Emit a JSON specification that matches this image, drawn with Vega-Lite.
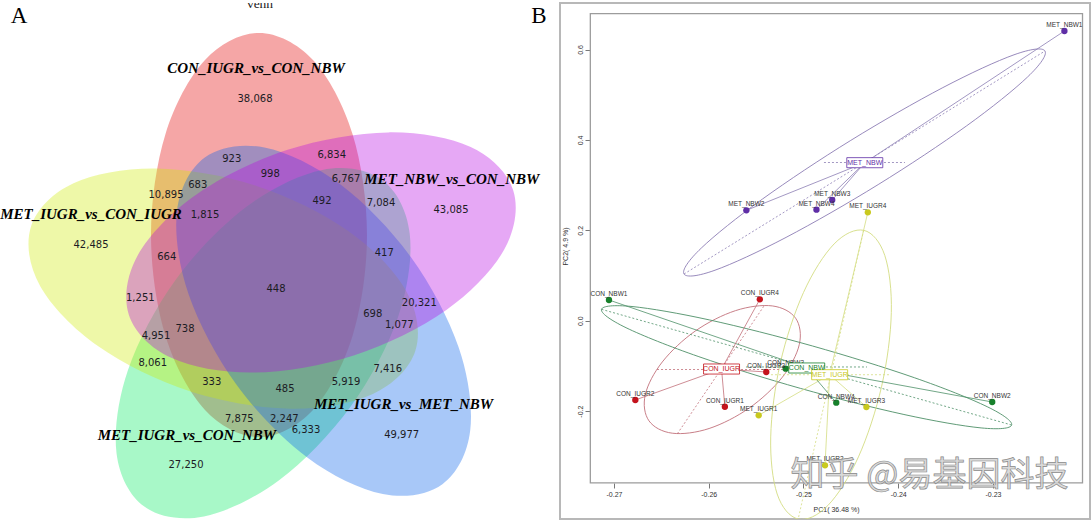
{
  "$schema": "https://vega.github.io/schema/vega-lite/v6.json",
  "padding": {"left": 0, "top": 2, "right": 2, "bottom": 0},
  "bounds": "flush",
  "spacing": 14,
  "background": "white",
  "config": {
    "view": {"stroke": null},
    "font": "Liberation Sans",
    "locale": {"number": {"decimal": ".", "thousands": ",", "grouping": [3], "currency": ["$", ""], "minus": "-"}}
  },
  "datasets": {
    "venn": [
      {"s":"R","i":0,"x":2.58,"y":4.90},{"s":"R","i":1,"x":3.12,"y":4.629},{"s":"R","i":2,"x":3.515,"y":3.89},{"s":"R","i":3,"x":3.66,"y":2.88},{"s":"R","i":4,"x":3.515,"y":1.87},{"s":"R","i":5,"x":3.12,"y":1.131},{"s":"R","i":6,"x":2.58,"y":0.86},{"s":"R","i":7,"x":2.04,"y":1.131},{"s":"R","i":8,"x":1.645,"y":1.87},{"s":"R","i":9,"x":1.50,"y":2.88},{"s":"R","i":10,"x":1.645,"y":3.89},{"s":"R","i":11,"x":2.04,"y":4.629},
      {"s":"M","i":0,"x":5.121,"y":3.329},{"s":"M","i":1,"x":5.031,"y":2.732},{"s":"M","i":2,"x":4.45,"y":2.128},{"s":"M","i":3,"x":3.534,"y":1.678},{"s":"M","i":4,"x":2.529,"y":1.504},{"s":"M","i":5,"x":1.703,"y":1.652},{"s":"M","i":6,"x":1.279,"y":2.081},{"s":"M","i":7,"x":1.369,"y":2.679},{"s":"M","i":8,"x":1.951,"y":3.282},{"s":"M","i":9,"x":2.866,"y":3.732},{"s":"M","i":10,"x":3.872,"y":3.906},{"s":"M","i":11,"x":4.697,"y":3.759},
      {"s":"B","i":0,"x":4.414,"y":0.388},{"s":"B","i":1,"x":3.818,"y":0.29},{"s":"B","i":2,"x":3.063,"y":0.655},{"s":"B","i":3,"x":2.352,"y":1.387},{"s":"B","i":4,"x":1.875,"y":2.289},{"s":"B","i":5,"x":1.76,"y":3.12},{"s":"B","i":6,"x":2.038,"y":3.656},{"s":"B","i":7,"x":2.634,"y":3.755},{"s":"B","i":8,"x":3.389,"y":3.389},{"s":"B","i":9,"x":4.10,"y":2.657},{"s":"B","i":10,"x":4.577,"y":1.755},{"s":"B","i":11,"x":4.692,"y":0.925},
      {"s":"G","i":0,"x":1.433,"y":0.164},{"s":"G","i":1,"x":2.029,"y":0.066},{"s":"G","i":2,"x":2.784,"y":0.431},{"s":"G","i":3,"x":3.495,"y":1.163},{"s":"G","i":4,"x":3.972,"y":2.065},{"s":"G","i":5,"x":4.087,"y":2.896},{"s":"G","i":6,"x":3.809,"y":3.432},{"s":"G","i":7,"x":3.213,"y":3.531},{"s":"G","i":8,"x":2.458,"y":3.165},{"s":"G","i":9,"x":1.747,"y":2.433},{"s":"G","i":10,"x":1.27,"y":1.531},{"s":"G","i":11,"x":1.155,"y":0.701},
      {"s":"Y","i":0,"x":0.301,"y":2.968},{"s":"Y","i":1,"x":0.725,"y":3.398},{"s":"Y","i":2,"x":1.551,"y":3.545},{"s":"Y","i":3,"x":2.556,"y":3.371},{"s":"Y","i":4,"x":3.472,"y":2.921},{"s":"Y","i":5,"x":4.053,"y":2.318},{"s":"Y","i":6,"x":4.143,"y":1.72},{"s":"Y","i":7,"x":3.719,"y":1.291},{"s":"Y","i":8,"x":2.894,"y":1.143},{"s":"Y","i":9,"x":1.888,"y":1.317},{"s":"Y","i":10,"x":0.973,"y":1.767},{"s":"Y","i":11,"x":0.391,"y":2.371}
    ],
    "vennNums": [
      {"t":"38,068","x":2.54,"y":4.237},{"t":"923","x":2.307,"y":3.637},{"t":"998","x":2.693,"y":3.487},{"t":"6,834","x":3.307,"y":3.677},
      {"t":"683","x":1.967,"y":3.38},{"t":"10,895","x":1.65,"y":3.28},{"t":"6,767","x":3.45,"y":3.437},{"t":"492","x":3.21,"y":3.22},
      {"t":"7,084","x":3.80,"y":3.197},{"t":"1,815","x":2.04,"y":3.08},{"t":"42,485","x":0.90,"y":2.777},{"t":"664","x":1.657,"y":2.66},
      {"t":"1,251","x":1.393,"y":2.253},{"t":"4,951","x":1.55,"y":1.87},{"t":"738","x":1.84,"y":1.943},{"t":"448","x":2.75,"y":2.337},
      {"t":"43,085","x":4.50,"y":3.127},{"t":"417","x":3.833,"y":2.697},{"t":"20,321","x":4.183,"y":2.203},{"t":"698","x":3.717,"y":2.093},
      {"t":"1,077","x":3.983,"y":1.98},{"t":"8,061","x":1.517,"y":1.603},{"t":"7,416","x":3.867,"y":1.537},{"t":"333","x":2.107,"y":1.41},
      {"t":"485","x":2.84,"y":1.337},{"t":"5,919","x":3.45,"y":1.413},{"t":"7,875","x":2.383,"y":1.037},{"t":"2,247","x":2.833,"y":1.037},
      {"t":"6,333","x":3.05,"y":0.927},{"t":"49,977","x":4.007,"y":0.88},{"t":"27,250","x":1.85,"y":0.577}
    ],
    "vennSets": [
      {"t":"CON_IUGR_vs_CON_NBW","x":2.55,"y":4.553},
      {"t":"MET_IUGR_vs_CON_IUGR","x":0.90,"y":3.087},
      {"t":"MET_NBW_vs_CON_NBW","x":4.508,"y":3.437},
      {"t":"MET_IUGR_vs_MET_NBW","x":4.025,"y":1.187},
      {"t":"MET_IUGR_vs_CON_NBW","x":1.858,"y":0.877}
    ],
    "panelLetters": [{"t":"A","x":0.18,"y":5.005},{"t":"B","x":5.38,"y":5.005}],
    "vennTitle": [{"t":"venn","x":2.59,"y":5.15}],
    "pca": [
      {"s":"MET_NBW1","g":"MET_NBW","x":-0.22246,"y":0.6409},
      {"s":"MET_NBW2","g":"MET_NBW","x":-0.25603,"y":0.2442},
      {"s":"MET_NBW3","g":"MET_NBW","x":-0.24697,"y":0.2670},
      {"s":"MET_NBW4","g":"MET_NBW","x":-0.24863,"y":0.2456},
      {"s":"MET_IUGR4","g":"MET_IUGR","x":-0.24321,"y":0.2398},
      {"s":"CON_NBW1","g":"CON_NBW","x":-0.27053,"y":0.0458},
      {"s":"CON_IUGR4","g":"CON_IUGR","x":-0.25461,"y":0.0473},
      {"s":"CON_NBW3","g":"CON_NBW","x":-0.25188,"y":-0.1062},
      {"s":"CON_IUGR3","g":"CON_IUGR","x":-0.25393,"y":-0.1135},
      {"s":"CON_IUGR2","g":"CON_IUGR","x":-0.26775,"y":-0.1754},
      {"s":"CON_IUGR1","g":"CON_IUGR","x":-0.25830,"y":-0.1903},
      {"s":"MET_IUGR1","g":"MET_IUGR","x":-0.25473,"y":-0.2093},
      {"s":"CON_NBW4","g":"CON_NBW","x":-0.24654,"y":-0.1814},
      {"s":"MET_IUGR3","g":"MET_IUGR","x":-0.24336,"y":-0.1909},
      {"s":"CON_NBW2","g":"CON_NBW","x":-0.23008,"y":-0.1799},
      {"s":"MET_IUGR2","g":"MET_IUGR","x":-0.24773,"y":-0.3199}
    ],
    "pcaGroups": [
      {"g":"MET_NBW","x":-0.24353,"y":0.3496},
      {"g":"CON_IUGR","x":-0.25865,"y":-0.1069},
      {"g":"CON_NBW","x":-0.24966,"y":-0.1046},
      {"g":"MET_IUGR","x":-0.24724,"y":-0.1195}
    ],
    "pcaEllAxes": [
      {"g":"MET_NBW","x":-0.26261,"y":0.1033,"x2":-0.22451,"y2":0.5967},
      {"g":"MET_NBW","x":-0.24784,"y":0.35,"x2":-0.23929,"y2":0.35},
      {"g":"CON_IUGR","x":-0.26331,"y":-0.25,"x2":-0.25412,"y2":0.0341},
      {"g":"CON_IUGR","x":-0.26546,"y":-0.108,"x2":-0.25174,"y2":-0.108},
      {"g":"CON_NBW","x":-0.27132,"y":0.0252,"x2":-0.22803,"y2":-0.2308},
      {"g":"CON_NBW","x":-0.25607,"y":-0.1024,"x2":-0.2433,"y2":-0.1024},
      {"g":"MET_IUGR","x":-0.24365,"y":0.2,"x2":-0.25056,"y2":-0.4385},
      {"g":"MET_IUGR","x":-0.25343,"y":-0.1195,"x2":-0.24077,"y2":-0.1195}
    ],
    "pcaFrame": [{"x":-0.2725,"x2":-0.22055,"y":0.6792,"y2":-0.359}],
    "pcaMark": [{"t":"知乎 @易基因科技","x":-0.2367,"y":-0.3436}],
    "pcaEll": [
      {"g":"MET_NBW","i":0,"x":-0.22451,"y":0.5967},{"g":"MET_NBW","i":1,"x":-0.22635,"y":0.5392},{"g":"MET_NBW","i":2,"x":-0.23279,"y":0.4310},{"g":"MET_NBW","i":3,"x":-0.24212,"y":0.3011},{"g":"MET_NBW","i":4,"x":-0.25184,"y":0.1843},{"g":"MET_NBW","i":5,"x":-0.25934,"y":0.1117},{"g":"MET_NBW","i":6,"x":-0.26261,"y":0.1033},{"g":"MET_NBW","i":7,"x":-0.26078,"y":0.1608},{"g":"MET_NBW","i":8,"x":-0.25434,"y":0.2690},{"g":"MET_NBW","i":9,"x":-0.24501,"y":0.3989},{"g":"MET_NBW","i":10,"x":-0.23529,"y":0.5157},{"g":"MET_NBW","i":11,"x":-0.22778,"y":0.5883},
      {"g":"CON_IUGR","i":0,"x":-0.25083,"y":0.0055},{"g":"CON_IUGR","i":1,"x":-0.25044,"y":-0.0524},{"g":"CON_IUGR","i":2,"x":-0.25223,"y":-0.1250},{"g":"CON_IUGR","i":3,"x":-0.25572,"y":-0.1931},{"g":"CON_IUGR","i":4,"x":-0.25996,"y":-0.2385},{"g":"CON_IUGR","i":5,"x":-0.26385,"y":-0.2489},{"g":"CON_IUGR","i":6,"x":-0.26631,"y":-0.2215},{"g":"CON_IUGR","i":7,"x":-0.26670,"y":-0.1637},{"g":"CON_IUGR","i":8,"x":-0.26490,"y":-0.0912},{"g":"CON_IUGR","i":9,"x":-0.26142,"y":-0.0228},{"g":"CON_IUGR","i":10,"x":-0.25717,"y":0.0223},{"g":"CON_IUGR","i":11,"x":-0.25329,"y":0.0327},
      {"g":"CON_NBW","i":0,"x":-0.22803,"y":-0.2308},{"g":"CON_NBW","i":1,"x":-0.23125,"y":-0.2372},{"g":"CON_NBW","i":2,"x":-0.23940,"y":-0.2075},{"g":"CON_NBW","i":3,"x":-0.25031,"y":-0.1498},{"g":"CON_NBW","i":4,"x":-0.26104,"y":-0.0796},{"g":"CON_NBW","i":5,"x":-0.26873,"y":-0.0155},{"g":"CON_NBW","i":6,"x":-0.27132,"y":0.0251},{"g":"CON_NBW","i":7,"x":-0.26810,"y":0.0314},{"g":"CON_NBW","i":8,"x":-0.25995,"y":0.0018},{"g":"CON_NBW","i":9,"x":-0.24904,"y":-0.0560},{"g":"CON_NBW","i":10,"x":-0.23830,"y":-0.1261},{"g":"CON_NBW","i":11,"x":-0.23061,"y":-0.1903},
      {"g":"MET_IUGR","i":0,"x":-0.24363,"y":0.1999},{"g":"MET_IUGR","i":1,"x":-0.24142,"y":0.1444},{"g":"MET_IUGR","i":2,"x":-0.24073,"y":0.0181},{"g":"MET_IUGR","i":3,"x":-0.24175,"y":-0.1449},{"g":"MET_IUGR","i":4,"x":-0.24420,"y":-0.3013},{"g":"MET_IUGR","i":5,"x":-0.24742,"y":-0.4087},{"g":"MET_IUGR","i":6,"x":-0.25056,"y":-0.4388},{"g":"MET_IUGR","i":7,"x":-0.25278,"y":-0.3833},{"g":"MET_IUGR","i":8,"x":-0.25346,"y":-0.2571},{"g":"MET_IUGR","i":9,"x":-0.25245,"y":-0.0940},{"g":"MET_IUGR","i":10,"x":-0.25000,"y":0.0624},{"g":"MET_IUGR","i":11,"x":-0.24677,"y":0.1698}
    ]
  },
  "hconcat": [
    {
      "width": 545,
      "height": 520,
      "encoding": {
        "x": {"field": "x", "type": "quantitative", "scale": {"domain": [0, 5.45], "nice": false, "zero": false}, "axis": null},
        "y": {"field": "y", "type": "quantitative", "scale": {"domain": [0, 5.2], "nice": false, "zero": false}, "axis": null}
      },
      "layer": [
        {"data": {"name": "venn"}, "transform": [{"filter": "datum.s === 'R'"}], "mark": {"type": "line", "interpolate": "cardinal-closed", "fill": "#E20000", "fillOpacity": 0.35, "strokeWidth": 0, "strokeOpacity": 0}, "encoding": {"order": {"field": "i", "type": "quantitative"}}},
        {"data": {"name": "venn"}, "transform": [{"filter": "datum.s === 'G'"}], "mark": {"type": "line", "interpolate": "cardinal-closed", "fill": "#06EB62", "fillOpacity": 0.35, "strokeWidth": 0, "strokeOpacity": 0}, "encoding": {"order": {"field": "i", "type": "quantitative"}}},
        {"data": {"name": "venn"}, "transform": [{"filter": "datum.s === 'Y'"}], "mark": {"type": "line", "interpolate": "cardinal-closed", "fill": "#CEEB06", "fillOpacity": 0.35, "strokeWidth": 0, "strokeOpacity": 0}, "encoding": {"order": {"field": "i", "type": "quantitative"}}},
        {"data": {"name": "venn"}, "transform": [{"filter": "datum.s === 'B'"}], "mark": {"type": "line", "interpolate": "cardinal-closed", "fill": "#0662EB", "fillOpacity": 0.35, "strokeWidth": 0, "strokeOpacity": 0}, "encoding": {"order": {"field": "i", "type": "quantitative"}}},
        {"data": {"name": "venn"}, "transform": [{"filter": "datum.s === 'M'"}], "mark": {"type": "line", "interpolate": "cardinal-closed", "fill": "#B806E2", "fillOpacity": 0.35, "strokeWidth": 0, "strokeOpacity": 0}, "encoding": {"order": {"field": "i", "type": "quantitative"}}},
        {"data": {"name": "vennNums"}, "mark": {"type": "text", "font": "DejaVu Sans", "fontSize": 10, "fill": "#1c1c24"}, "encoding": {"text": {"field": "t"}}},
        {"data": {"name": "vennSets"}, "mark": {"type": "text", "font": "Liberation Serif", "fontSize": 15, "fontWeight": "bold", "fontStyle": "italic", "fill": "#000000"}, "encoding": {"text": {"field": "t"}}},
        {"data": {"name": "panelLetters"}, "mark": {"type": "text", "font": "Liberation Serif", "fontSize": 23, "baseline": "alphabetic", "fill": "#000000"}, "encoding": {"text": {"field": "t"}}},
        {"data": {"name": "vennTitle"}, "mark": {"type": "text", "font": "Liberation Serif", "fontSize": 13.5, "baseline": "alphabetic", "fill": "#222222", "clip": true}, "encoding": {"text": {"field": "t"}}}
      ]
    },
    {
      "width": 530,
      "height": 516,
      "view": {"stroke": "#b8b8b8", "strokeWidth": 2},
      "encoding": {
        "x": {"field": "x", "type": "quantitative", "scale": {"domain": [-0.2757, -0.21976], "nice": false, "zero": false},
          "axis": {"values": [-0.27, -0.26, -0.25, -0.24, -0.23], "format": ".2f", "offset": -36, "domain": false, "grid": false, "tickSize": 5, "tickColor": "#555555", "tickWidth": 0.8, "labelFontSize": 7, "labelColor": "#333333", "labelPadding": 2, "labelFlush": false, "labelOverlap": false, "title": "PC1( 36.48 %)", "titleFontSize": 7, "titleFontWeight": "normal", "titleColor": "#333333", "titlePadding": 8, "titleX": 276}},
        "y": {"field": "y", "type": "quantitative", "scale": {"domain": [-0.43872, 0.70288], "nice": false, "zero": false},
          "axis": {"values": [-0.2, 0, 0.2, 0.4, 0.6], "format": ".1f", "offset": -30, "domain": false, "grid": false, "tickSize": 5, "tickColor": "#555555", "tickWidth": 0.8, "labelAngle": 270, "labelAlign": "center", "labelBaseline": "bottom", "labelFontSize": 7, "labelColor": "#333333", "labelPadding": 2, "labelFlush": false, "labelOverlap": false, "title": "PC2( 4.9 %)", "titleFontSize": 7, "titleFontWeight": "normal", "titleColor": "#333333", "titlePadding": 8, "titleY": 243}}
      },
      "layer": [
        {"data": {"name": "pcaFrame"}, "mark": {"type": "rect", "fillOpacity": 0, "stroke": "#9c9c9c", "strokeWidth": 1.3}, "encoding": {"x2": {"field": "x2"}, "y2": {"field": "y2"}}},
        {"data": {"name": "pcaEll"}, "mark": {"type": "line", "interpolate": "cardinal-closed", "strokeWidth": 0.9, "clip": true}, "encoding": {"order": {"field": "i", "type": "quantitative"}, "detail": {"field": "g"}, "stroke": {"field": "g", "type": "nominal", "legend": null, "scale": {"domain": ["CON_IUGR", "CON_NBW", "MET_IUGR", "MET_NBW"], "range": ["#c2707a", "#4e9068", "#d4dd82", "#8c7db4"]}}}},
        {"data": {"name": "pcaEllAxes"}, "mark": {"type": "rule", "strokeWidth": 0.8, "strokeDash": [2, 2], "clip": true}, "encoding": {"x2": {"field": "x2"}, "y2": {"field": "y2"}, "stroke": {"field": "g", "type": "nominal", "legend": null, "scale": {"domain": ["CON_IUGR", "CON_NBW", "MET_IUGR", "MET_NBW"], "range": ["#c2707a", "#4e9068", "#d4dd82", "#8c7db4"]}}}},
        {"data": {"name": "pca"}, "transform": [{"lookup": "g", "from": {"data": {"name": "pcaGroups"}, "key": "g", "fields": ["x", "y"]}, "as": ["gx", "gy"]}], "mark": {"type": "rule", "strokeWidth": 0.8}, "encoding": {"x2": {"field": "gx"}, "y2": {"field": "gy"}, "stroke": {"field": "g", "type": "nominal", "legend": null, "scale": {"domain": ["CON_IUGR", "CON_NBW", "MET_IUGR", "MET_NBW"], "range": ["#c2707a", "#4e9068", "#d4dd82", "#8c7db4"]}}}},
        {"data": {"name": "pca"}, "mark": {"type": "circle", "size": 40, "opacity": 1}, "encoding": {"color": {"field": "g", "type": "nominal", "legend": null, "scale": {"domain": ["CON_IUGR", "CON_NBW", "MET_IUGR", "MET_NBW"], "range": ["#c4131d", "#17802b", "#c9c91e", "#5f2ea6"]}}}},
        {"data": {"name": "pca"}, "mark": {"type": "text", "fontSize": 6.5, "baseline": "bottom", "dy": -3, "fill": "#333333"}, "encoding": {"text": {"field": "s"}}},
        {"data": {"name": "pcaGroups"}, "mark": {"type": "point", "shape": "M-1,-0.28L1,-0.28L1,0.28L-1,0.28Z", "size": 1296, "filled": false, "fill": "#ffffff", "fillOpacity": 1, "strokeWidth": 0.8, "opacity": 1}, "encoding": {"color": {"field": "g", "type": "nominal", "legend": null, "scale": {"domain": ["CON_IUGR", "CON_NBW", "MET_IUGR", "MET_NBW"], "range": ["#c4131d", "#17802b", "#c9c91e", "#5f2ea6"]}}}},
        {"data": {"name": "pcaGroups"}, "mark": {"type": "text", "fontSize": 7}, "encoding": {"text": {"field": "g"}, "color": {"field": "g", "type": "nominal", "legend": null, "scale": {"domain": ["CON_IUGR", "CON_NBW", "MET_IUGR", "MET_NBW"], "range": ["#c4131d", "#17802b", "#c9c91e", "#5f2ea6"]}}}},
        {"data": {"name": "pcaMark"}, "mark": {"type": "text", "font": "Noto Sans CJK SC", "fontSize": 34, "fill": "#d4d4d4", "fillOpacity": 0.85, "stroke": "#8a8a8a", "strokeWidth": 0.7}, "encoding": {"text": {"field": "t"}}}
      ]
    }
  ]
}
